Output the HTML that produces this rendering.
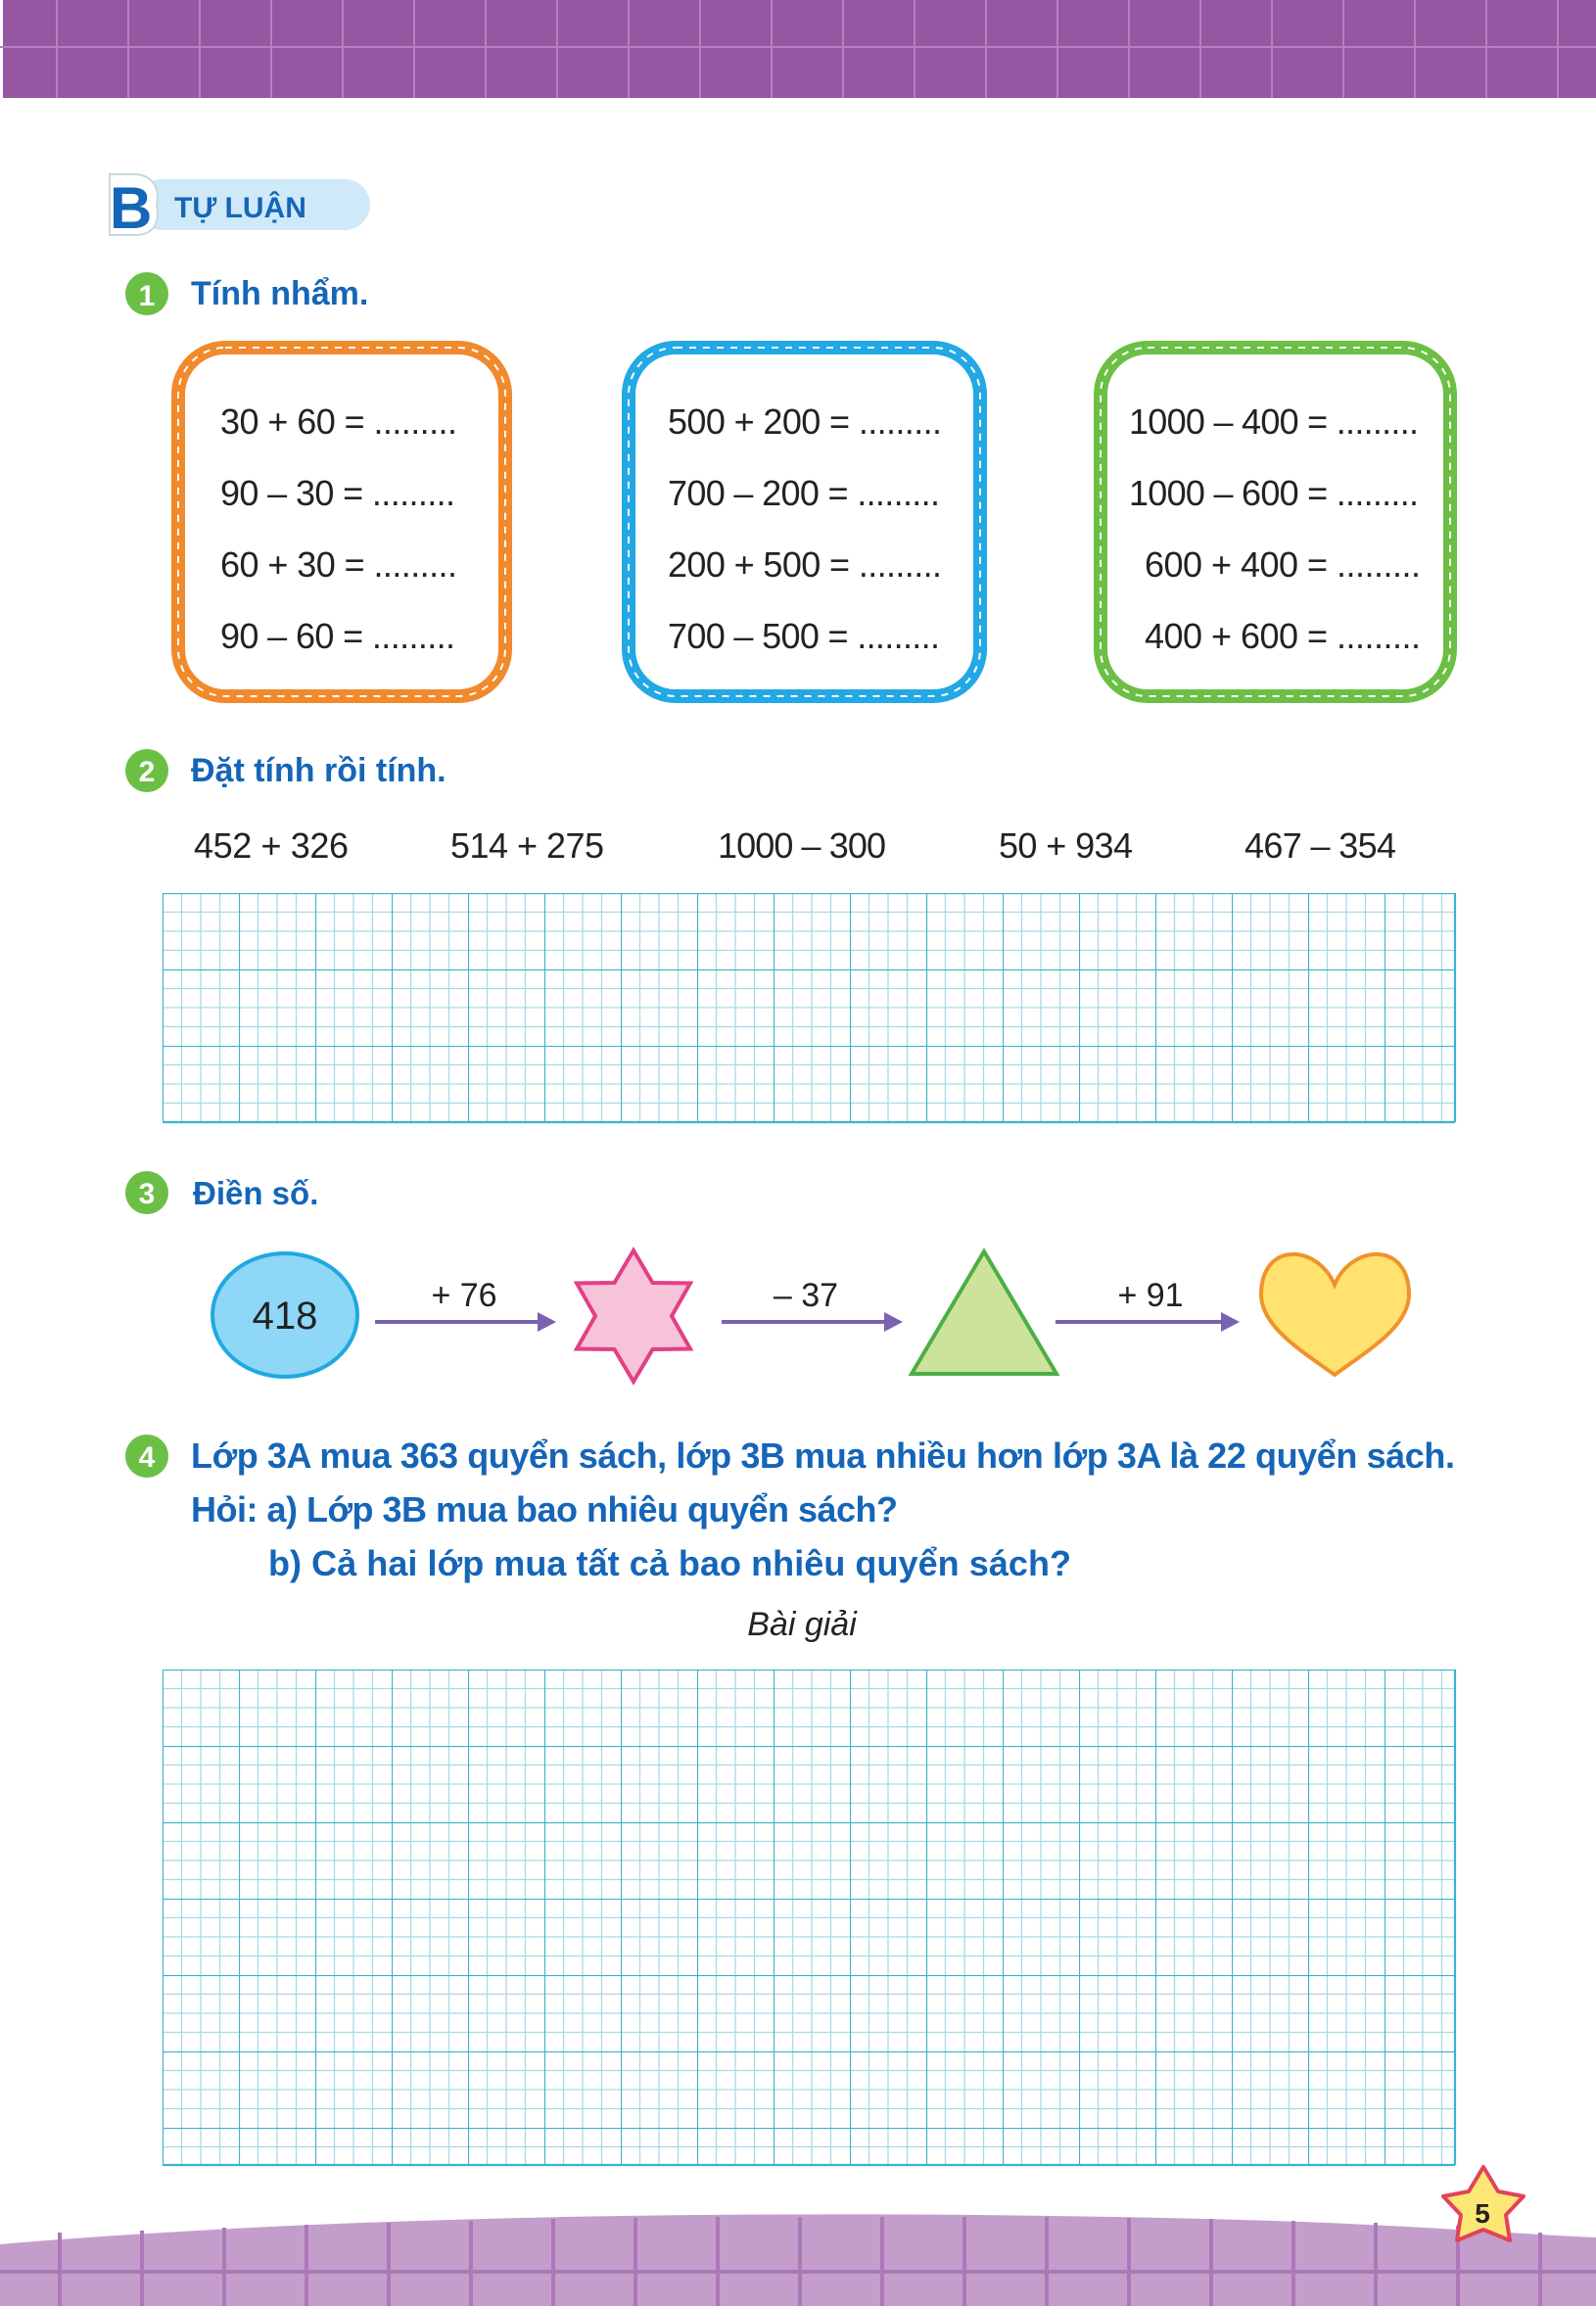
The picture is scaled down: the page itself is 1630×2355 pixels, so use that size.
<!DOCTYPE html>
<html><head><meta charset="utf-8"><style>
html,body{margin:0;padding:0;background:#fff;}
svg{display:block;}
.h{font-family:"Liberation Sans",sans-serif;font-weight:bold;fill:#1565b8;}
.t{font-family:"Liberation Sans",sans-serif;fill:#222;}
.n{font-family:"Liberation Sans",sans-serif;font-weight:bold;fill:#fff;}
</style></head><body>
<svg width="1630" height="2355" viewBox="0 0 1630 2355" xmlns="http://www.w3.org/2000/svg">
<defs>
<pattern id="g" x="166" y="912" width="78" height="78" patternUnits="userSpaceOnUse">
<path d="M19.5 0V78M39 0V78M58.5 0V78M0 19.5H78M0 39H78M0 58.5H78" stroke="#a9d9e6" stroke-width="1.3" fill="none"/>
<path d="M0 0V78M0 0H78" stroke="#3bb3cc" stroke-width="2.2" fill="none"/>
</pattern>
<pattern id="g2" x="166" y="1705" width="78" height="78" patternUnits="userSpaceOnUse">
<path d="M19.5 0V78M39 0V78M58.5 0V78M0 19.5H78M0 39H78M0 58.5H78" stroke="#a9d9e6" stroke-width="1.3" fill="none"/>
<path d="M0 0V78M0 0H78" stroke="#3bb3cc" stroke-width="2.2" fill="none"/>
</pattern>
</defs>
<!-- header -->
<rect x="3" y="0" width="1627" height="100" fill="#9656a2"/>
<path d="M0 48H1630" stroke="#b382bf" stroke-width="2"/>
<g stroke="#b382bf" stroke-width="2">
<path d="M58 0V100M131 0V100M204 0V100M277 0V100M350 0V100M423 0V100M496 0V100M569 0V100M642 0V100M715 0V100M788 0V100M861 0V100M934 0V100M1007 0V100M1080 0V100M1153 0V100M1226 0V100M1299 0V100M1372 0V100M1445 0V100M1518 0V100M1591 0V100"/>
</g>
<!-- B badge -->
<rect x="140" y="183" width="238" height="52" rx="26" fill="#cfe9f8"/>
<path d="M112 178 H140 Q165 182 160 210 Q165 238 140 240 H112 Z" fill="#fff" stroke="#c9d7e0" stroke-width="2"/>
<text x="112" y="233" class="h" font-size="60" fill="#1565c0">B</text>
<text x="178" y="222" class="h" font-size="30">TỰ LUẬN</text>
<!-- Q1 -->
<circle cx="150" cy="300" r="22" fill="#6cbf45"/>
<text x="150" y="312" class="n" font-size="30" text-anchor="middle">1</text>
<text x="195" y="311" class="h" font-size="34">Tính nhẩm.</text>
<rect x="182" y="355" width="334" height="356" rx="48" fill="#fff" stroke="#f08a2c" stroke-width="14"/>
<rect x="182" y="355" width="334" height="356" rx="48" fill="none" stroke="#fff" stroke-width="2" stroke-dasharray="7 7"/>
<rect x="642" y="355" width="359" height="356" rx="48" fill="#fff" stroke="#22a8e4" stroke-width="14"/>
<rect x="642" y="355" width="359" height="356" rx="48" fill="none" stroke="#fff" stroke-width="2" stroke-dasharray="7 7"/>
<rect x="1124" y="355" width="357" height="356" rx="48" fill="#fff" stroke="#6cbf45" stroke-width="14"/>
<rect x="1124" y="355" width="357" height="356" rx="48" fill="none" stroke="#fff" stroke-width="2" stroke-dasharray="7 7"/>
<g class="t" font-size="36">
<text x="225" y="443" textLength="242">30 + 60 = .........</text>
<text x="225" y="516" textLength="240">90 – 30 = .........</text>
<text x="225" y="589" textLength="242">60 + 30 = .........</text>
<text x="225" y="662" textLength="240">90 – 60 = .........</text>
<text x="682" y="443" textLength="280">500 + 200 = .........</text>
<text x="682" y="516" textLength="278">700 – 200 = .........</text>
<text x="682" y="589" textLength="280">200 + 500 = .........</text>
<text x="682" y="662" textLength="278">700 – 500 = .........</text>
<text x="1153" y="443" textLength="296">1000 – 400 = .........</text>
<text x="1153" y="516" textLength="296">1000 – 600 = .........</text>
<text x="1169" y="589" textLength="282">600 + 400 = .........</text>
<text x="1169" y="662" textLength="282">400 + 600 = .........</text>
</g>
<!-- Q2 -->
<circle cx="150" cy="787" r="22" fill="#6cbf45"/>
<text x="150" y="798" class="n" font-size="30" text-anchor="middle">2</text>
<text x="195" y="798" class="h" font-size="34">Đặt tính rồi tính.</text>
<g class="t" font-size="36">
<text x="198" y="876" textLength="158">452 + 326</text>
<text x="460" y="876" textLength="157">514 + 275</text>
<text x="733" y="876" textLength="172">1000 – 300</text>
<text x="1020" y="876" textLength="137">50 + 934</text>
<text x="1271" y="876" textLength="155">467 – 354</text>
</g>
<rect x="166" y="912" width="1320" height="234" fill="url(#g)"/>
<path d="M1486 912V1146M166 1146H1486" stroke="#3bb3cc" stroke-width="2.2"/>
<!-- Q3 -->
<circle cx="150" cy="1218" r="22" fill="#6cbf45"/>
<text x="150" y="1229" class="n" font-size="30" text-anchor="middle">3</text>
<text x="197" y="1230" class="h" font-size="33">Điền số.</text>
<ellipse cx="291" cy="1343" rx="74" ry="63" fill="#8fd7f6" stroke="#1fa9e1" stroke-width="4"/>
<text x="291" y="1357" class="t" font-size="40" text-anchor="middle">418</text>
<g stroke="#7b62b0" stroke-width="4"><path d="M383 1350H552M737 1350H906M1078 1350H1250"/></g>
<g fill="#7b62b0"><path d="M549 1340L568 1350L549 1360Z M903 1340L922 1350L903 1360Z M1247 1340L1266 1350L1247 1360Z"/></g>
<g class="t" font-size="34" text-anchor="middle">
<text x="474" y="1334">+ 76</text>
<text x="823" y="1334">– 37</text>
<text x="1175" y="1334">+ 91</text>
</g>
<polygon points="647,1277 666.5,1310 705,1310.5 686,1344 705,1377.5 666.5,1378 647,1411 627.5,1378 589,1377.5 608,1344 589,1310.5 627.5,1310" fill="#f7c3d8" stroke="#e23f86" stroke-width="4" stroke-linejoin="miter"/>
<polygon points="1005,1278 1079,1403 931,1403" fill="#cde39c" stroke="#4caf44" stroke-width="4"/>
<path d="M1363 1312 C1345 1270 1288 1268 1288 1322 C1288 1355 1330 1380 1363 1404 C1396 1380 1439 1355 1439 1322 C1439 1268 1381 1270 1363 1312 Z" fill="#ffe36e" stroke="#f0922c" stroke-width="4"/>
<!-- Q4 -->
<circle cx="150" cy="1487" r="22" fill="#6cbf45"/>
<text x="150" y="1498" class="n" font-size="30" text-anchor="middle">4</text>
<g class="h" font-size="36">
<text x="195" y="1499" textLength="1291">Lớp 3A mua 363 quyển sách, lớp 3B mua nhiều hơn lớp 3A là 22 quyển sách.</text>
<text x="195" y="1554" textLength="722">Hỏi: a) Lớp 3B mua bao nhiêu quyển sách?</text>
<text x="274" y="1609" textLength="820">b) Cả hai lớp mua tất cả bao nhiêu quyển sách?</text>
</g>
<text x="819" y="1670" class="t" font-size="34" font-style="italic" text-anchor="middle">Bài giải</text>
<rect x="166" y="1705" width="1320" height="506" fill="url(#g2)"/>
<path d="M1486 1705V2211M166 2211H1486" stroke="#3bb3cc" stroke-width="2.2"/>
<!-- bottom -->
<path d="M0 2292 C400 2258 900 2256 1300 2268 C1450 2273 1560 2282 1630 2285 V2355 H0 Z" fill="#c39ecb"/>
<g stroke="#ad78b9" stroke-width="4">
<path d="M0 2320H1630"/>
<path d="M61 2280V2355M145 2278V2355M229 2275V2355M313 2272V2355M397 2270V2355M481 2268V2355M565 2266V2355M649 2265V2355M733 2264V2355M817 2264V2355M901 2264V2355M985 2264V2355M1069 2264V2355M1153 2265V2355M1237 2266V2355M1321 2268V2355M1405 2270V2355M1489 2273V2355M1573 2280V2355"/>
</g>
<polygon points="1515,2213 1530,2238 1556,2243 1538,2262 1542,2288 1515,2277 1488,2288 1492,2262 1474,2243 1500,2238" fill="#fde774" stroke="#e2435a" stroke-width="4" stroke-linejoin="round"/>
<text x="1514" y="2270" font-family="Liberation Sans,sans-serif" font-weight="bold" font-size="28" fill="#222" text-anchor="middle">5</text>
</svg>
</body></html>
